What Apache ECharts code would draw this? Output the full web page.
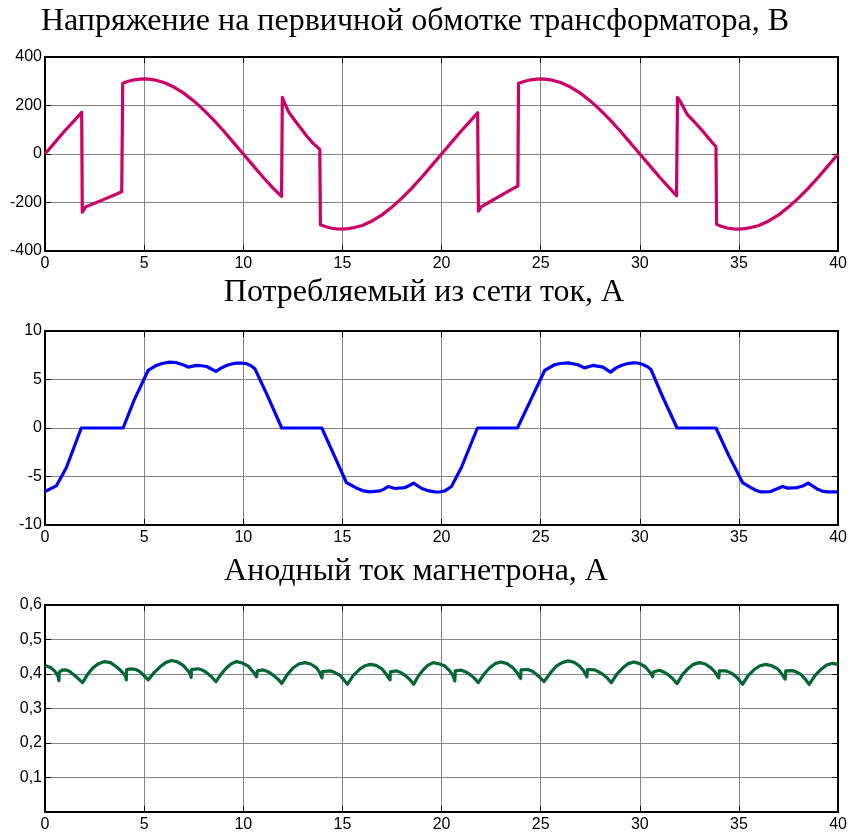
<!DOCTYPE html>
<html>
<head>
<meta charset="utf-8">
<script src="https://cdn.jsdelivr.net/npm/echarts@6/dist/echarts.min.js"></script>
<style>
  html, body { margin: 0; padding: 0; background: #fff; }
  #chart { width: 850px; height: 833px; }
</style>
</head>
<body>
<div id="chart"></div>
<script>
// Time axis, ms
const xTicks = [0, 5, 10, 15, 20, 25, 30, 35, 40];

// Panel titles
const titles = [
  'Напряжение на первичной обмотке трансформатора, В',
  'Потребляемый из сети ток, А',
  'Анодный ток магнетрона, А'
];

// Primary winding voltage, V
const uT = [0, 0.5, 1, 1.5, 1.85,
  1.88, 2.05, 2.5, 3.0, 3.5, 3.87,
  3.92, 4.2, 4.5, 4.8, 5.1, 5.5, 6, 6.5, 7, 7.5, 8, 8.5, 9, 9.5, 10, 10.5, 11, 11.5, 11.93,
  11.97, 12.1, 12.3, 12.6, 12.9, 13.2, 13.5, 13.86,
  13.89, 14.1, 14.4, 14.7, 15, 15.3, 15.6, 16, 16.5, 17, 17.5, 18, 18.5, 19, 19.5, 20, 20.5, 21, 21.5, 21.82,
  21.86, 22.0, 22.4, 22.8, 23.2, 23.6, 23.85,
  23.88, 24.2, 24.5, 24.8, 25.1, 25.5, 26, 26.5, 27, 27.5, 28, 28.5, 29, 29.5, 30, 30.5, 31, 31.5, 31.85,
  31.9, 32.05, 32.4, 32.8, 33.2, 33.5, 33.84,
  33.87, 34.1, 34.4, 34.7, 35, 35.3, 35.6, 36, 36.5, 37, 37.5, 38, 38.5, 39, 39.5, 40];
const uV = [0, 48, 96, 140, 172,
  -240, -218, -203, -186, -169, -156,
  292, 300, 306, 309, 310, 306, 295, 276, 251, 219, 182, 141, 96, 48, 0, -48, -96, -141, -175,
  234, 208, 172, 138, 106, 74, 46, 19,
  -292, -298, -305, -309, -310, -308, -303, -295, -276, -251, -219, -182, -141, -96, -48, 0, 48, 96, 141, 170,
  -236, -218, -199, -180, -161, -143, -132,
  292, 300, 306, 309, 310, 306, 295, 276, 251, 219, 182, 141, 96, 48, 0, -48, -96, -141, -172,
  234, 215, 162, 128, 92, 62, 30,
  -290, -298, -305, -309, -310, -308, -303, -295, -276, -251, -219, -182, -141, -96, -48, 0];

// Mains current, A
const iT = [0, 0.57, 1.08, 1.83, 3.94, 4.5, 5.2, 5.62, 5.9, 6.29, 6.6, 6.8, 7.0, 7.22, 7.64, 7.9, 8.15, 8.62,
  8.9, 9.16, 9.4, 9.66, 9.9, 10.17, 10.4, 10.59, 11.18, 11.94, 13.96, 14.6, 15.2, 15.72, 16.0, 16.39, 16.9,
  17.1, 17.3, 17.66, 18.16, 18.4, 18.59, 19.0, 19.3, 19.66, 19.9, 20.17, 20.5, 21.0, 21.81, 23.83, 24.5, 25.2,
  25.7, 26.0, 26.38, 26.88, 27.2, 27.63, 28.14, 28.52, 28.8, 29.06, 29.35, 29.65, 29.9, 30.15, 30.4, 30.57,
  31.16, 31.88, 33.84, 34.5, 35.18, 35.6, 35.85, 36.1, 36.6, 37.2, 37.45, 37.95, 38.25, 38.49, 38.96, 39.2,
  39.46, 40];
const iV = [-6.55, -5.97, -4.07, 0, 0, 2.9, 5.93, 6.45, 6.65, 6.79, 6.75, 6.62, 6.5, 6.28, 6.45, 6.42, 6.34, 5.83,
  6.2, 6.45, 6.6, 6.69, 6.7, 6.62, 6.4, 6.1, 3.52, 0, 0, -2.9, -5.62, -6.2, -6.45, -6.59, -6.48,
  -6.3, -6.03, -6.24, -6.14, -5.9, -5.69, -6.24, -6.45, -6.59, -6.6, -6.48, -6.03, -4.07, 0, 0, 2.9, 5.93,
  6.52, 6.65, 6.72, 6.52, 6.2, 6.45, 6.28, 5.76, 6.2, 6.45, 6.62, 6.72, 6.7, 6.55, 6.3, 6.0,
  3.17, 0, 0, -2.9, -5.62, -6.14, -6.42, -6.59, -6.55, -6.03, -6.2, -6.14, -5.95, -5.69, -6.31, -6.5,
  -6.59, -6.59];

// Magnetron anode current, A
const iaT = [0, 0.3, 0.5, 0.66, 0.70, 0.72, 0.85, 1.05, 1.25, 1.45, 1.65, 1.89, 2.15, 2.42, 2.7, 3.01, 3.3, 3.6,
  3.85, 4.07, 4.1, 4.12, 4.36, 4.6, 4.8, 5.0, 5.2, 5.5, 5.79, 6.08, 6.38, 6.68, 6.97, 7.2, 7.34, 7.37, 7.39,
  7.73, 7.95, 8.15, 8.4, 8.62, 8.9, 9.16, 9.4, 9.66, 9.95, 10.25, 10.5, 10.67, 10.69, 10.71, 11.01, 11.27,
  11.52, 11.75, 11.94, 12.23, 12.52, 12.8, 13.11, 13.4, 13.7, 13.85, 13.97, 13.99, 14.37, 14.6, 14.88, 15.05,
  15.25, 15.55, 15.89, 16.15, 16.4, 16.7, 16.99, 17.2, 17.4, 17.42, 17.74, 17.95, 18.16, 18.4, 18.59, 18.83,
  19.09, 19.3, 19.58, 19.9, 20.17, 20.4, 20.59, 20.67, 20.69, 21.0, 21.22, 21.43, 21.65, 21.85, 22.15, 22.43,
  22.7, 22.99, 23.3, 23.6, 23.82, 23.99, 24.01, 24.36, 24.58, 24.78, 24.98, 25.17, 25.5, 25.79, 26.08, 26.38,
  26.68, 26.96, 27.15, 27.33, 27.36, 27.72, 27.93, 28.14, 28.36, 28.56, 28.85, 29.14, 29.42, 29.7, 30.0,
  30.27, 30.47, 30.65, 30.68, 30.99, 31.2, 31.41, 31.65, 31.88, 32.15, 32.42, 32.7, 33.0, 33.3, 33.59, 33.8,
  33.98, 34.01, 34.35, 34.57, 34.77, 34.98, 35.18, 35.47, 35.77, 36.06, 36.36, 36.65, 36.95, 37.15, 37.33,
  37.36, 37.7, 37.92, 38.12, 38.33, 38.54, 38.84, 39.13, 39.42, 39.72, 40];
const iaV = [0.425, 0.418, 0.408, 0.393, 0.381, 0.405, 0.411, 0.412, 0.407, 0.398, 0.388, 0.375, 0.399, 0.418,
  0.430, 0.436, 0.433, 0.421, 0.408, 0.394, 0.383, 0.413, 0.415, 0.413, 0.406, 0.395, 0.383, 0.404, 0.420,
  0.433, 0.439, 0.435, 0.425, 0.410, 0.399, 0.390, 0.413, 0.415, 0.411, 0.404, 0.392, 0.378, 0.401, 0.418,
  0.430, 0.436, 0.432, 0.423, 0.406, 0.392, 0.388, 0.409, 0.412, 0.406, 0.396, 0.385, 0.373, 0.399, 0.418,
  0.429, 0.433, 0.429, 0.418, 0.405, 0.389, 0.407, 0.409, 0.405, 0.396, 0.385, 0.370, 0.396, 0.415, 0.424,
  0.428, 0.425, 0.415, 0.400, 0.383, 0.406, 0.409, 0.404, 0.396, 0.384, 0.370, 0.394, 0.413, 0.425, 0.433,
  0.429, 0.423, 0.410, 0.394, 0.380, 0.409, 0.411, 0.406, 0.399, 0.388, 0.375, 0.400, 0.418, 0.430, 0.435,
  0.430, 0.418, 0.403, 0.387, 0.412, 0.413, 0.408, 0.399, 0.389, 0.378, 0.404, 0.423, 0.433, 0.438, 0.434,
  0.423, 0.410, 0.392, 0.413, 0.412, 0.406, 0.399, 0.388, 0.375, 0.400, 0.418, 0.430, 0.435, 0.430, 0.421,
  0.408, 0.392, 0.406, 0.411, 0.406, 0.399, 0.387, 0.372, 0.398, 0.415, 0.428, 0.433, 0.429, 0.418, 0.405,
  0.389, 0.409, 0.409, 0.404, 0.397, 0.385, 0.370, 0.396, 0.413, 0.424, 0.428, 0.424, 0.415, 0.401, 0.385,
  0.409, 0.410, 0.405, 0.399, 0.386, 0.370, 0.396, 0.413, 0.426, 0.431, 0.428];

const zip = (t, v) => t.map((x, k) => [x, v[k]]);

const sans = 'Liberation Sans, Arial, sans-serif';
const serif = 'Liberation Serif, Times New Roman, serif';
const frame = { show: true, onZero: false, lineStyle: { color: '#000', width: 2 } };
const gridLine = { show: true, lineStyle: { color: '#858585', width: 1 } };
const inTick = { show: true, inside: true, length: 6, lineStyle: { color: '#000', width: 1 } };

const grids = [
  { left: 45, right: 9, top: 57, height: 194 },
  { left: 45, right: 9, top: 331, height: 194 },
  { left: 45, right: 9, top: 605, height: 208 }
];

const yCfg = [
  { min: -400, max: 400, interval: 200, fmt: v => String(v) },
  { min: -10, max: 10, interval: 5, fmt: v => String(v) },
  { min: 0, max: 0.6, interval: 0.1, fmt: v => (v === 0 ? '' : v.toFixed(1).replace('.', ',')) }
];

const xAxes = [], yAxes = [];
grids.forEach((g, k) => {
  xAxes.push({
    type: 'value', gridIndex: k, position: 'bottom', min: 0, max: 40, interval: 5,
    axisLine: frame, axisTick: inTick, splitLine: gridLine,
    axisLabel: { show: true, fontFamily: sans, fontSize: 16, color: '#000', margin: 5 }
  });
  xAxes.push({
    type: 'value', gridIndex: k, position: 'top', min: 0, max: 40, interval: 5,
    axisLine: frame, axisTick: inTick, splitLine: { show: false }, axisLabel: { show: false }
  });
  const c = yCfg[k];
  yAxes.push({
    type: 'value', gridIndex: k, position: 'left', min: c.min, max: c.max, interval: c.interval,
    axisLine: frame, axisTick: inTick, splitLine: gridLine,
    axisLabel: { show: true, fontFamily: sans, fontSize: 16, color: '#000', margin: 3, formatter: c.fmt }
  });
  yAxes.push({
    type: 'value', gridIndex: k, position: 'right', min: c.min, max: c.max, interval: c.interval,
    axisLine: frame, axisTick: inTick, splitLine: { show: false }, axisLabel: { show: false }
  });
});

const lineSeries = (idx, data, color) => ({
  type: 'line', xAxisIndex: idx * 2, yAxisIndex: idx * 2, data, showSymbol: false,
  lineStyle: { color, width: 3.2, join: 'round' }, animation: false, z: 3
});

const titleY = [22, 293, 572];
const titleX = [415, 424, 416];

const chart = echarts.init(document.getElementById('chart'), null, { renderer: 'canvas' });
chart.setOption({
  animation: false,
  backgroundColor: '#fff',
  grid: grids,
  xAxis: xAxes,
  yAxis: yAxes,
  graphic: titles.map((t, k) => ({
    type: 'text', x: titleX[k], y: titleY[k],
    style: { text: t, font: '32px ' + serif, fill: '#000', textAlign: 'center', textVerticalAlign: 'middle' }
  })),
  series: [
    lineSeries(0, zip(uT, uV), '#cc0066'),
    lineSeries(1, zip(iT, iV), '#0000ff'),
    lineSeries(2, zip(iaT, iaV), '#006633')
  ]
});
</script>
</body>
</html>
